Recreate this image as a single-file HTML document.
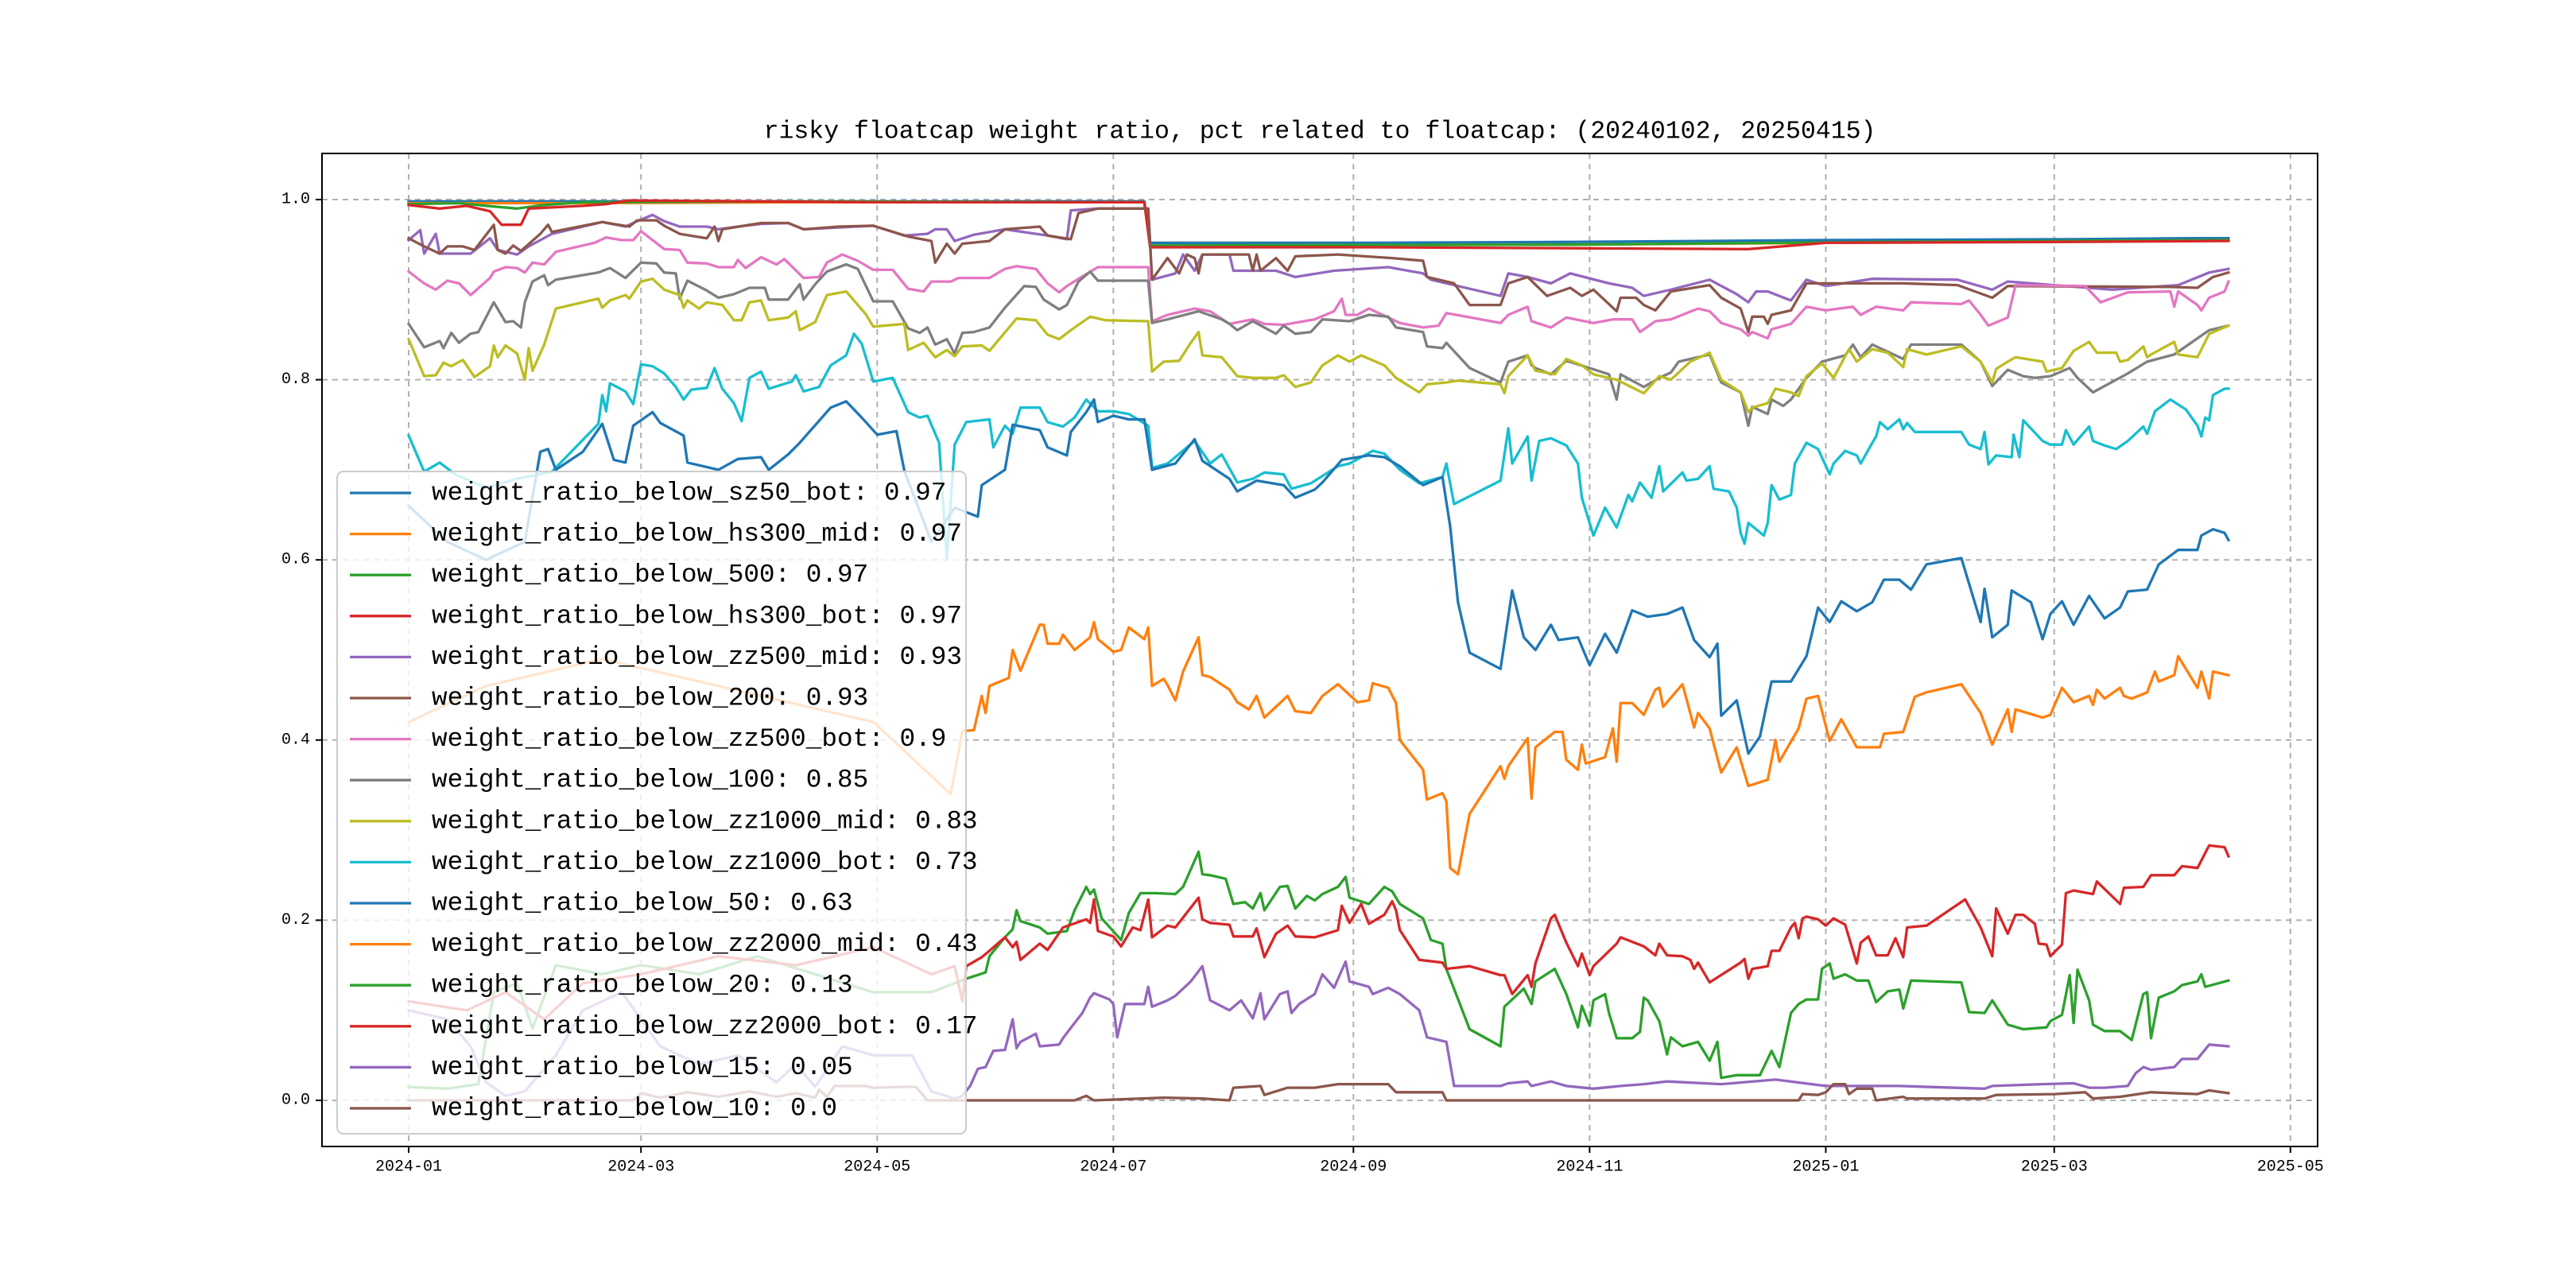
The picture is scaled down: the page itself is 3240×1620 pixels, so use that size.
<!DOCTYPE html>
<html><head><meta charset="utf-8">
<style>
html,body{margin:0;padding:0;background:#fff;}
svg{display:block;}
text{font-family:"Liberation Mono","WenQuanYi Zen Hei",monospace;fill:#000;}
</style></head>
<body>
<svg id="chart" width="3240" height="1620" viewBox="0 0 3240 1620" xmlns="http://www.w3.org/2000/svg">
<rect x="0" y="0" width="3240" height="1620" fill="#fff"/>
<text x="1660" y="166" font-size="31.5" text-anchor="middle" dominant-baseline="central">risky floatcap weight ratio, pct related to floatcap: (20240102, 20250415)</text>
<g id="grid"></g>
<g id="lines"></g>
<rect x="405" y="193" width="2510" height="1249" fill="none" stroke="#000" stroke-width="2"/>
<g id="axes"></g>
<g id="legend"></g>
</svg>
<script>
const xTickDays = [0,60,121,182,244,305,366,425,486];
const xTickLabels = ["2024-01","2024-03","2024-05","2024-07","2024-09","2024-11","2025-01","2025-03","2025-05"];
const yTickValues = [0,0.2,0.4,0.6,0.8,1.0];
const yTickLabels = ["0.0","0.2","0.4","0.6","0.8","1.0"];
const seriesNames = ["weight_ratio_below_sz50_bot: 0.97","weight_ratio_below_hs300_mid: 0.97","weight_ratio_below_500: 0.97","weight_ratio_below_hs300_bot: 0.97","weight_ratio_below_zz500_mid: 0.93","weight_ratio_below_200: 0.93","weight_ratio_below_zz500_bot: 0.9","weight_ratio_below_100: 0.85","weight_ratio_below_zz1000_mid: 0.83","weight_ratio_below_zz1000_bot: 0.73","weight_ratio_below_50: 0.63","weight_ratio_below_zz2000_mid: 0.43","weight_ratio_below_20: 0.13","weight_ratio_below_zz2000_bot: 0.17","weight_ratio_below_15: 0.05","weight_ratio_below_10: 0.0"];
const seriesColors = ["#1f77b4","#ff7f0e","#2ca02c","#d62728","#9467bd","#8c564b","#e377c2","#7f7f7f","#bcbd22","#17becf","#1f77b4","#ff7f0e","#2ca02c","#d62728","#9467bd","#8c564b"];

const sSz50Bot = [[0,0.998],[60,0.998],[120,0.998],[190,0.998],[191.5,0.952],[250,0.952],[300,0.953],[366,0.955],[430,0.956],[460,0.957],[470,0.957]];
const sHs300Mid = [[0,0.996],[40,0.996],[100,0.997],[190,0.997],[191.5,0.949],[300,0.95],[400,0.953],[470,0.955]];
const s500 = [[0,0.995],[13,0.996],[20,0.993],[28,0.99],[35,0.994],[45,0.997],[100,0.998],[190,0.997],[191.5,0.949],[300,0.95],[380,0.953],[470,0.955]];
const sHs300Bot = [[0,0.994],[8,0.99],[15,0.993],[21,0.987],[24,0.972],[29,0.972],[31,0.99],[45,0.993],[51,0.995],[57,0.999],[120,0.997],[190,0.997],[191.5,0.947],[250,0.947],[300,0.946],[346,0.945],[366,0.952],[425,0.953],[470,0.954]];
const sZz500Mid = [[0,0.955],[3,0.966],[4,0.94],[7,0.962],[8,0.94],[16,0.94],[21,0.957],[23,0.944],[28,0.939],[31,0.948],[37,0.962],[50,0.975],[56,0.97],[59,0.976],[63,0.983],[66,0.976],[70,0.97],[77,0.97],[80,0.967],[85,0.97],[91,0.973],[98,0.974],[102,0.967],[120,0.971],[128,0.96],[134,0.962],[136,0.967],[139,0.967],[141,0.954],[146,0.961],[154,0.967],[165,0.96],[170,0.956],[171,0.988],[178,0.99],[191,0.99],[192,0.911],[198,0.918],[200,0.939],[203,0.921],[205,0.939],[212,0.939],[213,0.921],[224,0.921],[229,0.914],[239,0.921],[253,0.925],[262,0.918],[264,0.911],[282,0.893],[284,0.918],[289,0.914],[295,0.907],[300,0.918],[310,0.907],[316,0.902],[319,0.893],[326,0.9],[336,0.911],[343,0.895],[346,0.886],[348,0.898],[351,0.898],[357,0.888],[361,0.911],[366,0.904],[378,0.912],[400,0.911],[409,0.9],[413,0.909],[440,0.9],[457,0.905],[465,0.919],[470,0.923]];
const s200 = [[0,0.957],[4,0.948],[8,0.94],[10,0.948],[14,0.948],[17,0.944],[22,0.972],[23,0.944],[25,0.94],[27,0.949],[29,0.943],[34,0.962],[36,0.972],[37,0.964],[50,0.975],[57,0.97],[59,0.977],[64,0.977],[66,0.971],[70,0.962],[77,0.957],[79,0.97],[80,0.954],[81,0.967],[91,0.974],[98,0.974],[102,0.967],[111,0.97],[120,0.971],[129,0.959],[135,0.954],[136,0.93],[139,0.951],[141,0.94],[143,0.951],[150,0.954],[154,0.967],[163,0.97],[165,0.96],[171,0.956],[173,0.985],[178,0.99],[191,0.99],[192,0.911],[196,0.935],[199,0.918],[201,0.939],[203,0.935],[204,0.918],[205,0.939],[217,0.939],[218,0.921],[219,0.939],[220,0.921],[224,0.935],[227,0.921],[229,0.937],[240,0.939],[254,0.935],[262,0.932],[263,0.914],[270,0.907],[274,0.883],[282,0.883],[284,0.907],[289,0.914],[294,0.893],[300,0.902],[303,0.893],[306,0.9],[312,0.876],[313,0.891],[317,0.891],[319,0.883],[322,0.877],[326,0.898],[336,0.905],[339,0.891],[344,0.879],[346,0.853],[347,0.87],[350,0.87],[351,0.862],[352,0.872],[357,0.877],[361,0.907],[366,0.907],[386,0.907],[400,0.905],[409,0.891],[413,0.904],[455,0.903],[462,0.902],[466,0.914],[470,0.919]];
const sZz500Bot = [[0,0.92],[4,0.907],[7,0.9],[10,0.91],[13,0.907],[16,0.894],[21,0.913],[22,0.92],[25,0.925],[28,0.924],[30,0.919],[32,0.93],[35,0.928],[38,0.942],[48,0.952],[51,0.958],[55,0.955],[58,0.955],[60,0.965],[66,0.945],[70,0.944],[72,0.93],[77,0.929],[80,0.925],[84,0.925],[85,0.933],[87,0.924],[91,0.936],[95,0.928],[97,0.934],[102,0.913],[106,0.914],[108,0.93],[112,0.939],[116,0.932],[120,0.922],[125,0.922],[129,0.901],[133,0.898],[135,0.909],[140,0.909],[142,0.913],[150,0.913],[154,0.923],[157,0.926],[162,0.923],[165,0.907],[168,0.897],[170,0.904],[173,0.912],[178,0.925],[191,0.925],[192,0.865],[196,0.872],[203,0.879],[207,0.876],[212,0.862],[218,0.867],[221,0.862],[226,0.861],[234,0.867],[239,0.876],[241,0.89],[242,0.872],[245,0.872],[248,0.879],[253,0.869],[256,0.863],[262,0.858],[266,0.86],[268,0.874],[282,0.863],[284,0.872],[289,0.881],[290,0.865],[295,0.858],[299,0.869],[306,0.863],[311,0.867],[316,0.867],[318,0.853],[322,0.865],[326,0.867],[333,0.879],[336,0.876],[339,0.863],[344,0.856],[346,0.849],[347,0.853],[351,0.846],[352,0.856],[357,0.862],[361,0.881],[366,0.877],[373,0.881],[375,0.872],[379,0.881],[386,0.877],[388,0.886],[401,0.884],[403,0.888],[406,0.872],[408,0.86],[413,0.869],[415,0.905],[433,0.904],[437,0.886],[444,0.897],[455,0.898],[456,0.881],[457,0.898],[462,0.883],[463,0.877],[465,0.891],[469,0.898],[470,0.909]];
const s100 = [[0,0.862],[4,0.836],[8,0.843],[9,0.835],[11,0.852],[13,0.841],[16,0.851],[18,0.853],[22,0.886],[25,0.864],[27,0.865],[29,0.858],[30,0.886],[32,0.909],[35,0.916],[36,0.905],[38,0.911],[49,0.919],[52,0.924],[56,0.913],[60,0.93],[64,0.929],[66,0.919],[69,0.918],[70,0.89],[72,0.91],[77,0.899],[80,0.891],[84,0.895],[88,0.902],[92,0.902],[93,0.889],[98,0.889],[101,0.906],[102,0.889],[105,0.906],[108,0.92],[113,0.928],[116,0.923],[120,0.887],[125,0.887],[129,0.857],[132,0.852],[134,0.858],[136,0.839],[139,0.845],[141,0.829],[143,0.852],[146,0.853],[150,0.858],[154,0.88],[159,0.904],[162,0.903],[164,0.889],[168,0.878],[170,0.883],[173,0.909],[176,0.92],[178,0.91],[191,0.91],[192,0.863],[196,0.867],[204,0.876],[210,0.867],[212,0.862],[214,0.855],[218,0.865],[224,0.851],[226,0.86],[229,0.851],[233,0.853],[236,0.867],[243,0.865],[248,0.872],[253,0.87],[255,0.858],[262,0.853],[263,0.837],[267,0.835],[268,0.841],[271,0.827],[274,0.813],[282,0.797],[284,0.82],[289,0.827],[290,0.816],[291,0.813],[295,0.806],[299,0.821],[305,0.813],[310,0.806],[312,0.778],[313,0.806],[319,0.792],[323,0.802],[326,0.808],[328,0.82],[336,0.828],[339,0.797],[344,0.786],[346,0.749],[347,0.77],[351,0.762],[352,0.778],[355,0.771],[357,0.778],[361,0.802],[365,0.82],[371,0.827],[373,0.839],[375,0.825],[378,0.839],[386,0.823],[388,0.839],[401,0.839],[406,0.82],[409,0.793],[413,0.811],[417,0.804],[420,0.802],[424,0.804],[429,0.813],[431,0.802],[435,0.786],[438,0.793],[444,0.807],[449,0.82],[456,0.828],[463,0.849],[465,0.855],[470,0.86]];
const sZz1000Mid = [[0,0.845],[4,0.804],[7,0.805],[9,0.819],[11,0.815],[14,0.822],[17,0.803],[21,0.815],[22,0.838],[23,0.825],[25,0.838],[28,0.829],[30,0.8],[31,0.835],[32,0.81],[35,0.839],[38,0.879],[49,0.89],[50,0.88],[52,0.888],[56,0.894],[57,0.89],[60,0.909],[63,0.912],[66,0.9],[70,0.894],[71,0.88],[72,0.888],[75,0.879],[77,0.886],[81,0.883],[84,0.866],[86,0.866],[88,0.886],[91,0.888],[93,0.866],[98,0.869],[100,0.876],[101,0.855],[105,0.864],[108,0.894],[113,0.898],[118,0.873],[120,0.859],[128,0.862],[129,0.833],[133,0.841],[136,0.825],[139,0.833],[141,0.826],[143,0.837],[148,0.838],[150,0.832],[157,0.868],[162,0.866],[165,0.85],[168,0.845],[171,0.855],[176,0.87],[180,0.866],[191,0.865],[192,0.809],[195,0.82],[199,0.821],[202,0.841],[204,0.853],[205,0.827],[210,0.825],[214,0.804],[218,0.802],[224,0.802],[226,0.805],[229,0.792],[233,0.797],[236,0.816],[240,0.827],[243,0.82],[246,0.827],[252,0.816],[255,0.802],[261,0.786],[263,0.795],[268,0.797],[271,0.799],[282,0.795],[283,0.785],[284,0.804],[289,0.827],[291,0.81],[296,0.806],[299,0.823],[303,0.816],[306,0.806],[312,0.8],[319,0.785],[323,0.804],[326,0.8],[331,0.82],[336,0.83],[339,0.8],[344,0.786],[346,0.764],[347,0.769],[351,0.774],[353,0.79],[357,0.786],[359,0.782],[361,0.804],[365,0.818],[368,0.802],[372,0.834],[374,0.82],[378,0.834],[382,0.83],[386,0.814],[387,0.834],[392,0.828],[401,0.837],[406,0.82],[409,0.797],[410,0.812],[413,0.82],[415,0.825],[422,0.82],[423,0.809],[427,0.813],[430,0.832],[434,0.842],[436,0.83],[441,0.83],[442,0.82],[444,0.822],[448,0.837],[449,0.825],[450,0.828],[456,0.842],[457,0.828],[462,0.825],[465,0.851],[470,0.86]];
const sZz1000Bot = [[0,0.738],[4,0.698],[8,0.708],[12,0.695],[20,0.68],[28,0.69],[37,0.698],[49,0.751],[50,0.783],[51,0.765],[52,0.796],[56,0.787],[58,0.773],[60,0.817],[63,0.815],[66,0.807],[69,0.792],[71,0.778],[73,0.789],[77,0.791],[79,0.813],[81,0.79],[84,0.774],[86,0.754],[88,0.802],[91,0.809],[93,0.79],[99,0.798],[100,0.805],[102,0.787],[106,0.792],[109,0.816],[113,0.827],[115,0.851],[117,0.84],[120,0.798],[125,0.802],[129,0.764],[132,0.758],[134,0.76],[137,0.73],[139,0.6],[141,0.728],[144,0.753],[150,0.756],[151,0.725],[154,0.749],[156,0.74],[158,0.769],[163,0.769],[165,0.753],[169,0.748],[172,0.758],[175,0.778],[178,0.765],[182,0.765],[186,0.762],[191,0.749],[192,0.702],[196,0.707],[203,0.732],[207,0.707],[210,0.717],[214,0.686],[218,0.69],[221,0.697],[226,0.695],[228,0.679],[233,0.685],[240,0.704],[243,0.707],[249,0.721],[252,0.718],[256,0.70],[261,0.685],[267,0.692],[268,0.707],[270,0.662],[282,0.688],[284,0.746],[285,0.707],[289,0.737],[290,0.688],[292,0.732],[295,0.735],[299,0.727],[302,0.707],[303,0.669],[306,0.627],[309,0.658],[312,0.636],[315,0.672],[316,0.665],[318,0.686],[321,0.669],[323,0.704],[324,0.676],[329,0.697],[330,0.688],[333,0.69],[336,0.704],[337,0.679],[341,0.676],[343,0.658],[344,0.63],[345,0.618],[346,0.641],[350,0.627],[351,0.641],[352,0.683],[354,0.667],[357,0.672],[358,0.707],[361,0.73],[364,0.723],[367,0.695],[368,0.707],[371,0.721],[374,0.716],[375,0.707],[378,0.73],[379,0.737],[380,0.753],[382,0.745],[385,0.756],[386,0.745],[387,0.752],[389,0.742],[401,0.742],[403,0.728],[406,0.723],[407,0.742],[408,0.706],[410,0.716],[414,0.714],[414.5,0.739],[416,0.714],[417,0.755],[422,0.732],[424,0.728],[427,0.728],[428,0.744],[430,0.728],[434,0.748],[435,0.732],[438,0.727],[441,0.723],[444,0.732],[448,0.748],[449,0.74],[451,0.765],[455,0.778],[459,0.767],[462,0.749],[463,0.737],[464,0.758],[465,0.755],[466,0.783],[469,0.79],[470,0.79]];
const s50 = [[0,0.66],[10,0.62],[20,0.6],[30,0.62],[34,0.72],[36,0.723],[38,0.70],[45,0.72],[50,0.751],[53,0.711],[56,0.708],[58,0.749],[63,0.764],[65,0.752],[71,0.738],[72,0.708],[80,0.70],[85,0.712],[91,0.714],[93,0.70],[98,0.717],[101,0.73],[109,0.769],[113,0.776],[117,0.758],[121,0.739],[126,0.743],[128,0.699],[135,0.62],[141,0.658],[147,0.648],[148,0.683],[154,0.70],[156,0.75],[163,0.744],[165,0.725],[170,0.716],[171,0.742],[175,0.764],[177,0.778],[178,0.753],[182,0.76],[186,0.756],[190,0.756],[192,0.70],[198,0.707],[203,0.734],[205,0.71],[212,0.69],[214,0.676],[219,0.688],[226,0.683],[229,0.669],[234,0.678],[236,0.686],[241,0.711],[248,0.716],[252,0.714],[256,0.704],[262,0.683],[267,0.692],[269,0.637],[271,0.553],[274,0.497],[282,0.479],[285,0.566],[288,0.514],[291,0.50],[295,0.528],[297,0.511],[302,0.514],[305,0.483],[309,0.518],[312,0.497],[316,0.544],[320,0.537],[325,0.540],[329,0.547],[332,0.511],[336,0.492],[338,0.507],[339,0.427],[343,0.444],[346,0.385],[349,0.404],[352,0.465],[357,0.465],[361,0.493],[364,0.547],[367,0.531],[370,0.554],[374,0.543],[378,0.553],[381,0.578],[385,0.578],[388,0.567],[392,0.595],[401,0.602],[406,0.531],[407,0.568],[409,0.514],[413,0.528],[414,0.566],[419,0.553],[422,0.512],[424,0.54],[427,0.554],[430,0.528],[434,0.56],[438,0.535],[442,0.547],[444,0.565],[449,0.567],[452,0.595],[457,0.611],[462,0.611],[463,0.627],[466,0.634],[469,0.630],[470,0.622]];
const sZz2000Mid = [[0,0.42],[10,0.44],[20,0.46],[30,0.47],[40,0.48],[50,0.49],[60,0.48],[70,0.47],[80,0.46],[90,0.45],[100,0.44],[110,0.43],[120,0.42],[130,0.38],[135,0.36],[140,0.34],[143,0.41],[146,0.411],[148,0.449],[149,0.43],[150,0.46],[155,0.469],[156,0.50],[158,0.477],[163,0.528],[164,0.528],[165,0.507],[168,0.507],[169,0.517],[172,0.50],[176,0.514],[177,0.531],[178,0.512],[182,0.498],[184,0.5],[186,0.525],[190,0.512],[191,0.525],[192,0.46],[195,0.468],[196,0.461],[198,0.444],[200,0.476],[204,0.514],[205,0.472],[207,0.47],[212,0.456],[214,0.442],[217,0.434],[219,0.449],[221,0.425],[227,0.449],[229,0.432],[233,0.43],[236,0.449],[240,0.462],[245,0.442],[248,0.444],[249,0.463],[253,0.458],[255,0.441],[256,0.40],[262,0.367],[263,0.334],[267,0.341],[268,0.332],[269,0.258],[271,0.251],[274,0.318],[282,0.371],[283,0.357],[284,0.371],[289,0.402],[290,0.335],[291,0.392],[296,0.409],[298,0.409],[299,0.378],[302,0.367],[303,0.395],[304,0.374],[309,0.381],[311,0.413],[312,0.376],[313,0.441],[316,0.441],[319,0.428],[322,0.456],[323,0.458],[324,0.437],[329,0.462],[332,0.414],[333,0.43],[336,0.413],[339,0.364],[343,0.392],[346,0.349],[351,0.356],[353,0.40],[354,0.376],[359,0.413],[361,0.446],[364,0.449],[367,0.399],[370,0.423],[374,0.392],[380,0.392],[381,0.407],[386,0.409],[389,0.448],[392,0.453],[401,0.462],[406,0.43],[409,0.395],[413,0.434],[414,0.409],[415,0.434],[422,0.425],[424,0.428],[427,0.458],[430,0.442],[434,0.449],[435,0.439],[436,0.456],[438,0.446],[442,0.458],[443,0.449],[445,0.446],[449,0.453],[451,0.476],[452,0.465],[456,0.472],[457,0.493],[462,0.458],[463,0.476],[465,0.446],[466,0.476],[470,0.472]];
const s20 = [[0,0.015],[10,0.013],[18,0.018],[22,0.12],[28,0.13],[32,0.08],[38,0.15],[50,0.14],[60,0.15],[75,0.14],[90,0.16],[105,0.14],[120,0.12],[135,0.12],[144,0.135],[149,0.142],[150,0.16],[154,0.181],[156,0.19],[157,0.211],[158,0.199],[163,0.192],[165,0.185],[170,0.188],[172,0.211],[175,0.237],[176,0.229],[177,0.234],[179,0.202],[184,0.178],[186,0.208],[189,0.23],[193,0.23],[198,0.229],[200,0.237],[204,0.276],[205,0.251],[207,0.25],[211,0.246],[213,0.218],[216,0.22],[218,0.213],[220,0.23],[221,0.211],[225,0.237],[227,0.238],[229,0.213],[232,0.227],[234,0.222],[236,0.229],[240,0.237],[242,0.248],[243,0.225],[248,0.218],[252,0.237],[254,0.232],[256,0.218],[262,0.202],[264,0.178],[267,0.174],[268,0.146],[274,0.079],[282,0.06],[283,0.104],[288,0.124],[290,0.107],[291,0.132],[296,0.146],[299,0.118],[302,0.081],[303,0.105],[305,0.083],[306,0.111],[309,0.118],[310,0.097],[312,0.069],[316,0.069],[318,0.076],[319,0.114],[320,0.111],[323,0.088],[325,0.051],[326,0.07],[329,0.06],[333,0.065],[336,0.044],[338,0.065],[339,0.025],[343,0.028],[349,0.028],[352,0.055],[354,0.037],[357,0.097],[359,0.107],[361,0.112],[364,0.112],[365,0.146],[367,0.152],[368,0.135],[371,0.14],[374,0.133],[377,0.133],[379,0.109],[382,0.121],[385,0.123],[386,0.102],[388,0.133],[401,0.131],[403,0.098],[407,0.097],[409,0.111],[413,0.084],[417,0.079],[423,0.081],[424,0.088],[427,0.095],[429,0.139],[430,0.086],[431,0.145],[434,0.111],[435,0.084],[438,0.077],[442,0.077],[445,0.067],[448,0.118],[449,0.12],[450,0.069],[452,0.114],[456,0.121],[458,0.128],[462,0.132],[463,0.14],[464,0.126],[470,0.133]];
const sZz2000Bot = [[0,0.11],[15,0.1],[25,0.12],[35,0.09],[45,0.13],[60,0.14],[80,0.16],[100,0.15],[120,0.17],[135,0.14],[141,0.149],[143,0.11],[144,0.149],[148,0.159],[150,0.166],[154,0.181],[156,0.17],[157,0.176],[158,0.156],[163,0.174],[165,0.167],[169,0.192],[175,0.201],[176,0.197],[177,0.223],[178,0.188],[182,0.182],[184,0.171],[187,0.192],[189,0.189],[191,0.223],[192,0.181],[196,0.194],[198,0.192],[204,0.225],[205,0.201],[207,0.197],[212,0.195],[213,0.182],[218,0.182],[219,0.191],[221,0.159],[224,0.185],[227,0.194],[229,0.182],[234,0.181],[240,0.189],[241,0.216],[243,0.197],[246,0.218],[248,0.196],[252,0.206],[254,0.221],[255,0.211],[256,0.189],[261,0.156],[267,0.153],[268,0.146],[274,0.149],[282,0.139],[283,0.139],[285,0.118],[289,0.139],[290,0.126],[291,0.152],[295,0.202],[296,0.206],[299,0.175],[302,0.149],[303,0.163],[305,0.139],[306,0.149],[312,0.174],[313,0.181],[319,0.171],[322,0.161],[323,0.174],[325,0.161],[329,0.16],[331,0.156],[332,0.146],[333,0.153],[336,0.131],[344,0.153],[345,0.157],[346,0.135],[347,0.146],[351,0.149],[352,0.166],[354,0.166],[357,0.192],[358,0.197],[359,0.18],[360,0.202],[361,0.204],[364,0.201],[366,0.194],[368,0.202],[371,0.195],[374,0.152],[375,0.175],[377,0.182],[379,0.161],[382,0.161],[384,0.18],[386,0.159],[387,0.192],[392,0.194],[402,0.223],[406,0.192],[409,0.16],[410,0.213],[413,0.185],[415,0.206],[417,0.206],[420,0.196],[421,0.174],[423,0.173],[424,0.16],[427,0.173],[428,0.23],[430,0.233],[435,0.229],[436,0.243],[442,0.218],[443,0.236],[448,0.237],[450,0.25],[456,0.25],[458,0.26],[462,0.258],[465,0.283],[469,0.281],[470,0.271]];
const s15 = [[0,0.1],[10,0.09],[16,0.06],[20,0.02],[25,0.005],[30,0.01],[38,0.05],[45,0.1],[55,0.12],[65,0.06],[75,0.04],[85,0.05],[95,0.02],[100,0.04],[105,0.015],[112,0.06],[120,0.05],[130,0.05],[135,0.01],[141,0.002],[143,0.005],[145,0.016],[147,0.035],[149,0.037],[151,0.055],[154,0.056],[156,0.09],[157,0.058],[158,0.065],[162,0.074],[163,0.06],[168,0.062],[169,0.069],[172,0.086],[174,0.097],[176,0.114],[177,0.119],[181,0.112],[182,0.107],[183,0.07],[185,0.107],[190,0.107],[191,0.126],[192,0.104],[196,0.111],[198,0.116],[202,0.132],[205,0.149],[207,0.111],[212,0.10],[215,0.111],[218,0.091],[220,0.119],[221,0.09],[225,0.118],[227,0.121],[228,0.097],[230,0.107],[234,0.118],[236,0.14],[239,0.125],[242,0.154],[243,0.132],[248,0.126],[249,0.118],[253,0.125],[256,0.118],[261,0.10],[263,0.07],[268,0.065],[270,0.016],[282,0.016],[284,0.019],[289,0.021],[290,0.016],[295,0.021],[299,0.016],[306,0.013],[313,0.016],[319,0.018],[325,0.021],[339,0.018],[353,0.023],[366,0.016],[385,0.016],[407,0.013],[409,0.016],[422,0.018],[430,0.019],[434,0.014],[438,0.014],[444,0.016],[446,0.03],[448,0.037],[450,0.034],[456,0.037],[458,0.046],[462,0.046],[465,0.062],[470,0.06]];
const s10 = [[0,0],[58,0],[60,0.008],[65,0.003],[72,0.009],[80,0.004],[88,0.01],[95,0.004],[100,0.008],[105,0.003],[106,0.012],[108,0.004],[110,0.016],[118,0.016],[120,0.014],[128,0.015],[131,0.015],[134,0],[172,0],[175,0.005],[177,0],[195,0.003],[205,0.002],[212,0],[213,0.014],[220,0.016],[221,0.006],[227,0.014],[234,0.014],[240,0.018],[253,0.018],[255,0.009],[267,0.009],[268,0],[359,0],[360,0.007],[364,0.006],[366,0.009],[368,0.018],[371,0.018],[372,0.007],[374,0.013],[378,0.013],[379,0],[386,0.004],[387,0.002],[407,0.002],[410,0.006],[425,0.007],[433,0.009],[435,0.002],[442,0.004],[450,0.009],[462,0.007],[465,0.011],[470,0.008]];

const allSeries = [sSz50Bot,sHs300Mid,s500,sHs300Bot,sZz500Mid,s200,sZz500Bot,s100,sZz1000Mid,sZz1000Bot,s50,sZz2000Mid,s20,sZz2000Bot,s15,s10];
const seriesKeys = ["sz50-bot","hs300-mid","500","hs300-bot","zz500-mid","200","zz500-bot","100","zz1000-mid","zz1000-bot","50","zz2000-mid","20","zz2000-bot","15","10"];

const NS = "http://www.w3.org/2000/svg";
const X0 = 405, X1 = 2915, Y0 = 193, Y1 = 1442;
function xScale(d){ return 514 + d * 4.87; }
function yScale(v){ return 1384 - v * 1133; }
function mk(tag, attrs){ const e = document.createElementNS(NS, tag); for (const k in attrs) e.setAttribute(k, attrs[k]); return e; }

const grid = document.getElementById('grid');
const axes = document.getElementById('axes');
xTickDays.forEach((d, i) => {
  const x = xScale(d);
  const gl = mk('line', {x1:x, x2:x, y1:Y0, y2:Y1, stroke:'#b0b0b0', 'stroke-width':2, 'stroke-dasharray':'7,6'});
  
  
  grid.appendChild(gl);
  const tk = mk('line', {x1:x, x2:x, y1:Y1, y2:Y1+8, stroke:'#000', 'stroke-width':2});
  
  
  axes.appendChild(tk);
  const t = mk('text', {x:x, y:1468, 'font-size':20, 'text-anchor':'middle', 'dominant-baseline':'central'});
  t.textContent = xTickLabels[i];
  
  
  axes.appendChild(t);
});
yTickValues.forEach((v, i) => {
  const y = yScale(v);
  const gl = mk('line', {x1:X0, x2:X1, y1:y, y2:y, stroke:'#b0b0b0', 'stroke-width':2, 'stroke-dasharray':'7,6'});
  
  
  grid.appendChild(gl);
  const tk = mk('line', {x1:X0-8, x2:X0, y1:y, y2:y, stroke:'#000', 'stroke-width':2});
  
  
  axes.appendChild(tk);
  const t = mk('text', {x:X0-15, y:y, 'font-size':20, 'text-anchor':'end', 'dominant-baseline':'central'});
  t.textContent = yTickLabels[i];
  
  
  axes.appendChild(t);
});

const linesG = document.getElementById('lines');
allSeries.forEach((s, i) => {
  const pts = s.map(p => xScale(p[0]).toFixed(1) + ',' + yScale(p[1]).toFixed(1)).join(' ');
  const pl = mk('polyline', {points:pts, fill:'none', stroke:seriesColors[i], 'stroke-width':3.3, 'stroke-linejoin':'round', 'stroke-linecap':'square'});
  
  
  linesG.appendChild(pl);
});

const lg = document.getElementById('legend');
const box = mk('rect', {x:424, y:593, width:791, height:833, rx:8, ry:8, fill:'rgba(255,255,255,0.8)', stroke:'#cccccc', 'stroke-width':2});


lg.appendChild(box);
seriesNames.forEach((n, i) => {
  const y = 620 + i * 51.6;
  const ln = mk('line', {x1:440, x2:517, y1:y, y2:y, stroke:seriesColors[i], 'stroke-width':3.3});
  
  
  lg.appendChild(ln);
  const t = mk('text', {x:543, y:y, 'font-size':32.7, 'dominant-baseline':'central'});
  t.textContent = n;
  
  
  lg.appendChild(t);
});
</script>
</body></html>
